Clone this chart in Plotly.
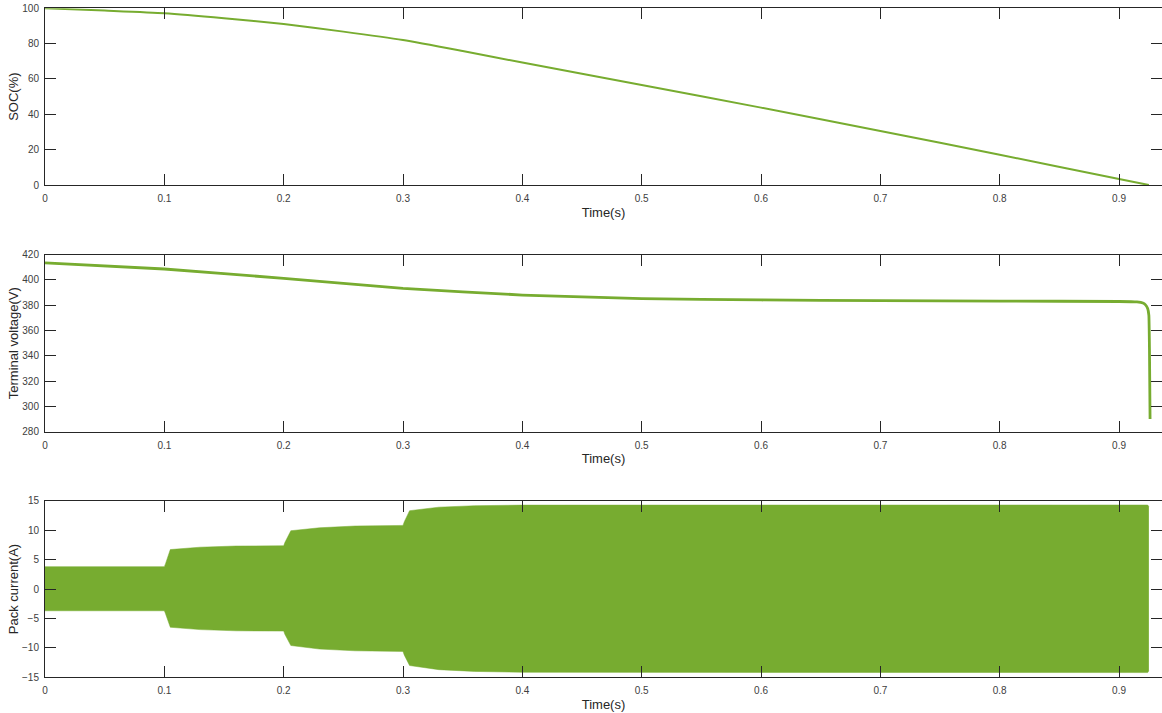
import plotly.graph_objects as go
from plotly.subplots import make_subplots

# State of charge (%)
soc_t = [0.0, 0.05, 0.1, 0.15, 0.2, 0.25, 0.3, 0.35, 0.4, 0.5, 0.6, 0.7, 0.8, 0.9, 0.925]
soc_v = [100.0, 98.7, 97.2, 94.4, 91.1, 86.8, 82.0, 75.8, 69.3, 56.6, 43.8, 30.6, 17.1, 3.4, 0.0]

# Terminal voltage (V)
vt_t = [0.0, 0.1, 0.2, 0.3, 0.4, 0.5, 0.6, 0.7, 0.8, 0.9, 0.915, 0.92, 0.922, 0.924, 0.925, 0.9255, 0.926]
vt_v = [413.5, 408.7, 401.3, 393.4, 388.1, 385.2, 384.2, 383.6, 383.3, 383.0, 382.6, 381.8, 380.5, 377.5, 372.0, 345.0, 290.0]

# Pack current envelope (A)
env_t = [0.0, 0.1, 0.101, 0.105, 0.13, 0.16, 0.2, 0.201, 0.206, 0.23, 0.26, 0.3, 0.301,
         0.3055, 0.33, 0.36, 0.4, 0.6, 0.8, 0.924, 0.925]
env_hi = [3.8, 3.8, 4.3, 6.7, 7.1, 7.3, 7.35, 7.9, 9.9, 10.4, 10.7, 10.8, 11.4,
          13.3, 13.9, 14.15, 14.25, 14.27, 14.27, 14.27, 14.0]
env_lo = [-3.7, -3.7, -4.2, -6.5, -6.9, -7.1, -7.15, -7.7, -9.6, -10.2, -10.5, -10.6, -11.2,
          -13.0, -13.7, -14.0, -14.15, -14.2, -14.2, -14.2, -13.9]

x_ticks = [0, 0.1, 0.2, 0.3, 0.4, 0.5, 0.6, 0.7, 0.8, 0.9]
x_labels = ["0", "0.1", "0.2", "0.3", "0.4", "0.5", "0.6", "0.7", "0.8", "0.9"]

GREEN = "#77AC30"
AX = "#262626"

fig = make_subplots(rows=3, cols=1)

fig.add_trace(go.Scatter(x=soc_t, y=soc_v, mode="lines",
                         line=dict(color=GREEN, width=2, shape="spline", smoothing=0.6),
                         showlegend=False), row=1, col=1)
fig.add_trace(go.Scatter(x=vt_t, y=vt_v, mode="lines",
                         line=dict(color=GREEN, width=2.8, shape="spline", smoothing=0.3),
                         showlegend=False), row=2, col=1)
fig.add_trace(go.Scatter(x=env_t, y=env_lo, mode="lines", line=dict(color=GREEN, width=0.5),
                         showlegend=False), row=3, col=1)
fig.add_trace(go.Scatter(x=env_t, y=env_hi, mode="lines", line=dict(color=GREEN, width=0.5),
                         fill="tonexty", fillcolor=GREEN, showlegend=False), row=3, col=1)

x_dom = [45 / 1162, 1.0]
y_doms = [
    [1 - 185 / 713, 1 - 8.3 / 713],
    [1 - 431.7 / 713, 1 - 254.7 / 713],
    [1 - 677.3 / 713, 1 - 500.7 / 713],
]
y_ranges = [[0, 100], [280, 420], [-15, 15]]
y_tick_sets = [
    [0, 20, 40, 60, 80, 100],
    [280, 300, 320, 340, 360, 380, 400, 420],
    [-15, -10, -5, 0, 5, 10, 15],
]
y_titles = ["SOC(%)", "Terminal voltage(V)", "Pack current(A)"]

tick_font = dict(family="Liberation Sans, Arial, sans-serif", size=10, color="#404040")
title_font = dict(family="Liberation Sans, Arial, sans-serif", size=13, color=AX)

for i in range(3):
    r = i + 1
    fig.update_xaxes(
        row=r, col=1, domain=x_dom, range=[0, 0.936],
        tickvals=x_ticks, ticktext=x_labels,
        ticks="inside", ticklen=11, tickwidth=1, tickcolor=AX,
        showline=True, linecolor=AX, linewidth=1, mirror="ticks",
        showgrid=False, zeroline=False, tickfont=tick_font,
        ticklabelstandoff=4,
        title=dict(text="Time(s)", font=title_font, standoff=4),
        automargin=False,
    )
    fig.update_yaxes(
        row=r, col=1, domain=y_doms[i], range=y_ranges[i],
        tickvals=y_tick_sets[i],
        ticks="inside", ticklen=11, tickwidth=1, tickcolor=AX,
        showline=True, linecolor=AX, linewidth=1, mirror="ticks",
        showgrid=False, zeroline=False, tickfont=tick_font,
        ticklabelstandoff=3,
        title=dict(text=y_titles[i], font=title_font, standoff=0),
        automargin=False,
    )

fig.update_layout(
    width=1162, height=713,
    margin=dict(l=0, r=0, t=0, b=0),
    paper_bgcolor="white", plot_bgcolor="white",
    showlegend=False,
)

fig.write_html("out.html")
